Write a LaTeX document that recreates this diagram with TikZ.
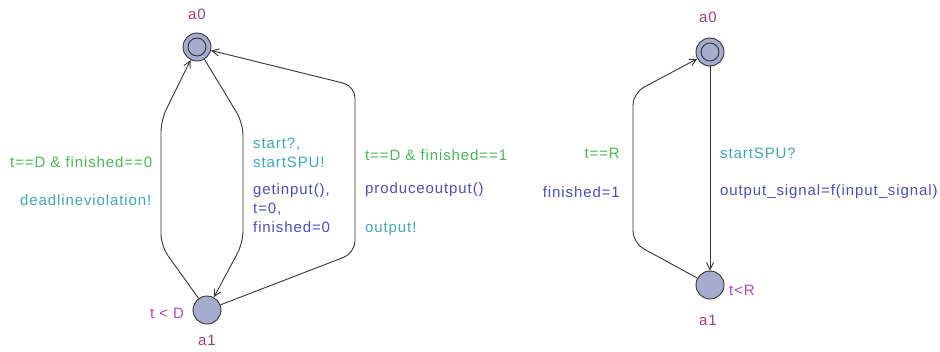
\documentclass[tikz,border=0pt]{standalone}
\usepackage{fontspec}
\setmainfont{Liberation Sans}[LetterSpace=6]
\usetikzlibrary{arrows.meta}
\definecolor{locfill}{RGB}{165,172,205}
\definecolor{guardc}{RGB}{76,182,86}
\definecolor{syncc}{RGB}{66,166,182}
\definecolor{updc}{RGB}{76,76,190}
\definecolor{namec}{RGB}{160,62,120}
\definecolor{invc}{RGB}{180,70,180}
\tikzset{
  loc/.style={circle, draw=black!80, fill=locfill, line width=0.9pt, minimum size=28pt, inner sep=0pt},
  edge/.style={draw=black!80, line width=0.9pt, rounded corners=12pt, -{Straight Barb[length=7pt,width=7pt]}},
  lbl/.style={inner sep=0pt, font=\fontsize{15}{17}\selectfont},
  guard/.style={lbl, text=guardc},
  sync/.style={lbl, text=syncc},
  upd/.style={lbl, text=updc},
  lname/.style={lbl, text=namec},
  inv/.style={lbl, text=invc}
}
\begin{document}
\begin{tikzpicture}[x=1pt, y=-1pt]
\useasboundingbox (0,0) rectangle (940,351);

% ---- first automaton ----
\node[loc] (la0) at (197,47) {};
\draw[black!80, line width=0.9pt] (la0.center) circle[radius=9pt];
\node[loc] (la1) at (207,310) {};
\node[lname] (la0n) at (197,14) {a0};
\node[lname] (la1n) at (207,340) {a1};
\node[inv] (la1i) at (167,313) {t < D};

\draw[edge] (la1) -- (161,246) -- (161,120) -- (la0);
\draw[edge] (la0) -- (243,123) -- (243,243) -- (la1);
\draw[edge] (la1) -- (355,253) -- (355,86) -- (la0);

\node[guard, anchor=west] (g1) at (10,162) {t==D \& finished==0};
\node[sync, anchor=west] (s1) at (20,200) {deadlineviolation!};

\node[sync, anchor=west] (s2a) at (253,144) {start?,};
\node[sync, anchor=west] (s2b) at (253,162) {startSPU!};
\node[upd, anchor=west] (u2a) at (253,191) {getinput(),};
\node[upd, anchor=west] (u2b) at (253,209) {t=0,};
\node[upd, anchor=west] (u2c) at (253,227) {finished=0};

\node[guard, anchor=west] (g3) at (365,155) {t==D \& finished==1};
\node[upd, anchor=west] (u3) at (365,190) {produceoutput()};
\node[sync, anchor=west] (s3) at (365,229) {output!};

% ---- second automaton ----
\node[loc] (ra0) at (710,52) {};
\draw[black!80, line width=0.9pt] (ra0.center) circle[radius=9pt];
\node[loc] (ra1) at (710,285) {};
\node[lname] (ra0n) at (708,17) {a0};
\node[lname] (ra1n) at (708,320) {a1};
\node[inv, anchor=west] (ra1i) at (729,290) {t<R};

\draw[edge] (ra0) -- (ra1);
\draw[edge] (ra1) -- (633,243) -- (633,93) -- (ra0);

\node[guard, anchor=east] (g4) at (620,153) {t==R};
\node[upd, anchor=east] (u4) at (620,192) {finished=1};
\node[sync, anchor=west] (s5) at (720,153) {startSPU?};
\node[upd, anchor=west] (u5) at (720,192) {output\_signal=f(input\_signal)};
\end{tikzpicture}
\end{document}
